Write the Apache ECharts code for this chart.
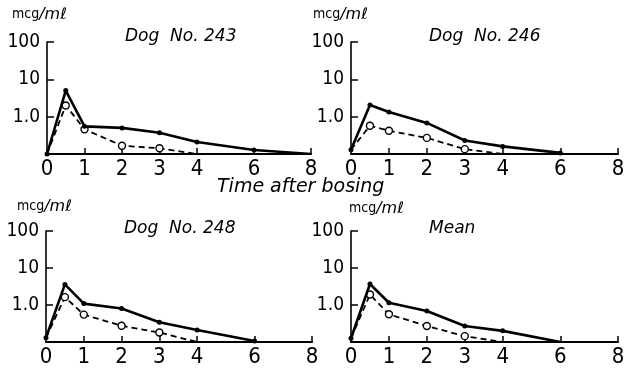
<!DOCTYPE html>
<html>
<head>
<meta charset="utf-8">
<script src="https://cdn.jsdelivr.net/npm/echarts@6/dist/echarts.min.js"></script>
<style>
  html, body { margin: 0; padding: 0; background: #fff; }
  #chart { width: 634px; height: 368px; }
</style>
</head>
<body>
<div id="chart"></div>
<script>
// Sampling times (hours after dosing)
const timesSolid = [0, 0.5, 1, 2, 3, 4, 6, 8];
const timesDashed = [0, 0.5, 1, 2, 3, 4];

// Plasma concentrations (mcg/ml); the baseline 0.1 marks "not detected"
const dog243Solid = [0.1, 5.0, 0.55, 0.50, 0.37, 0.21, 0.128, 0.1];
const dog243Dashed = [0.1, 2.0, 0.46, 0.167, 0.142, 0.1];
const dog246Solid = [0.13, 2.06, 1.34, 0.68, 0.23, 0.16, 0.107];
const dog246Dashed = [0.13, 0.57, 0.42, 0.27, 0.135, 0.1];
const dog248Solid = [0.13, 3.6, 1.09, 0.80, 0.34, 0.21, 0.107];
const dog248Dashed = [0.13, 1.63, 0.55, 0.275, 0.18, 0.1];
const meanSolid = [0.126, 3.7, 1.15, 0.69, 0.27, 0.20, 0.1];
const meanDashed = [0.126, 1.92, 0.56, 0.27, 0.144, 0.1];

const panelTitles = ['Dog  No. 243', 'Dog  No. 246', 'Dog  No. 248', 'Mean'];
const xTickLabels = [0, 1, 2, 3, 4, 6, 8];
const yTickLabels = [1, 10, 100];

// The time axis is drawn at full scale up to 4 h and compressed beyond it
const BREAK = 4;
const LATE_SCALE = 0.76;
const toAxis = t => (t <= BREAK ? t : BREAK + (t - BREAK) * LATE_SCALE);
const fromAxis = p => (p <= BREAK ? p : BREAK + (p - BREAK) / LATE_SCALE);

const panels = [
  { solid: dog243Solid, dashed: dog243Dashed },
  { solid: dog246Solid, dashed: dog246Dashed },
  { solid: dog248Solid, dashed: dog248Dashed },
  { solid: meanSolid, dashed: meanDashed }
];

const grids = [
  { left: 47, top: 42, width: 264, height: 112 },
  { left: 351, top: 42, width: 267, height: 112 },
  { left: 46, top: 231, width: 266, height: 111 },
  { left: 351, top: 231, width: 267, height: 111 }
];

const numFont = '"DejaVu Sans Condensed", "Liberation Sans Narrow", "Liberation Sans", sans-serif';
const italicFont = '"DejaVu Sans", "Liberation Sans", sans-serif';

const xAxes = grids.map((g, i) => ({
  type: 'value', gridIndex: i, min: 0, max: toAxis(8),
  axisLine: { lineStyle: { color: '#000', width: 2 } },
  axisTick: { inside: true, length: 6, customValues: xTickLabels.slice(1).map(toAxis), lineStyle: { color: '#000', width: 1.5 } },
  axisLabel: {
    customValues: xTickLabels.map(toAxis), color: '#000', fontFamily: numFont, fontSize: 22, margin: 4,
    formatter: v => String(Math.round(fromAxis(v)))
  },
  splitLine: { show: false }
}));

const yAxes = grids.map((g, i) => ({
  type: 'log', logBase: 10, gridIndex: i, min: 0.1, max: 100,
  axisLine: { show: true, lineStyle: { color: '#000', width: 1.6 } },
  axisTick: { show: true, inside: true, length: 7, customValues: yTickLabels, lineStyle: { color: '#000', width: 1.5 } },
  axisLabel: {
    customValues: yTickLabels, color: '#000', fontFamily: numFont, fontSize: 19, margin: 7,
    formatter: v => (Math.abs(v - 1) < 1e-9 ? '1.0' : String(Math.round(v)))
  },
  splitLine: { show: false }
}));

const solidPoints = ys => ys.map((v, i) => ({
  value: [toAxis(timesSolid[i]), v],
  symbol: v <= 0.1 && i > 0 ? 'none' : 'circle'
}));
const dashedPoints = ys => ys.map((v, i) => ({
  value: [toAxis(timesDashed[i]), v],
  symbol: (i === 0 || v <= 0.1) ? 'none' : 'circle'
}));

const series = [];
panels.forEach((p, i) => {
  series.push({
    type: 'line', xAxisIndex: i, yAxisIndex: i,
    data: solidPoints(p.solid),
    symbol: 'circle', symbolSize: 5,
    itemStyle: { color: '#000' },
    lineStyle: { color: '#000', width: 2.6 },
    z: 3, animation: false
  });
  series.push({
    type: 'line', xAxisIndex: i, yAxisIndex: i,
    data: dashedPoints(p.dashed),
    symbol: 'circle', symbolSize: 7,
    itemStyle: { color: '#fff', borderColor: '#000', borderWidth: 1.4 },
    lineStyle: { color: '#000', width: 1.8, type: [6, 4] },
    z: 2, animation: false
  });
});

const titleTop = [23, 23, 215, 215];
const titles = grids.map((g, i) => ({
  text: panelTitles[i], left: g.left + 73, top: titleTop[i],
  textStyle: { fontFamily: italicFont, fontStyle: 'italic', fontWeight: 'normal', fontSize: 17, color: '#000' }
}));

const unitPos = [[12, 7], [313, 7], [17, 199], [349, 201]];
const unitLabels = unitPos.map(([x, y]) => ({
  type: 'text', left: x, top: y,
  style: {
    text: '{a|mcg}{b|/mℓ}',
    rich: {
      a: { fontFamily: numFont, fontSize: 14, fill: '#000', verticalAlign: 'top' },
      b: { fontFamily: italicFont, fontStyle: 'italic', fontSize: 16, fill: '#000' }
    }
  }
}));

const chart = echarts.init(document.getElementById('chart'), null, { renderer: 'canvas' });
chart.setOption({
  backgroundColor: '#fff',
  animation: false,
  title: titles,
  grid: grids,
  xAxis: xAxes,
  yAxis: yAxes,
  series: series,
  graphic: unitLabels.concat([{
    type: 'text', left: 217, top: 178,
    style: { text: 'Time after bosing', fontFamily: italicFont, fontStyle: 'italic', fontSize: 19, fill: '#000' }
  }])
});
</script>
</body>
</html>
